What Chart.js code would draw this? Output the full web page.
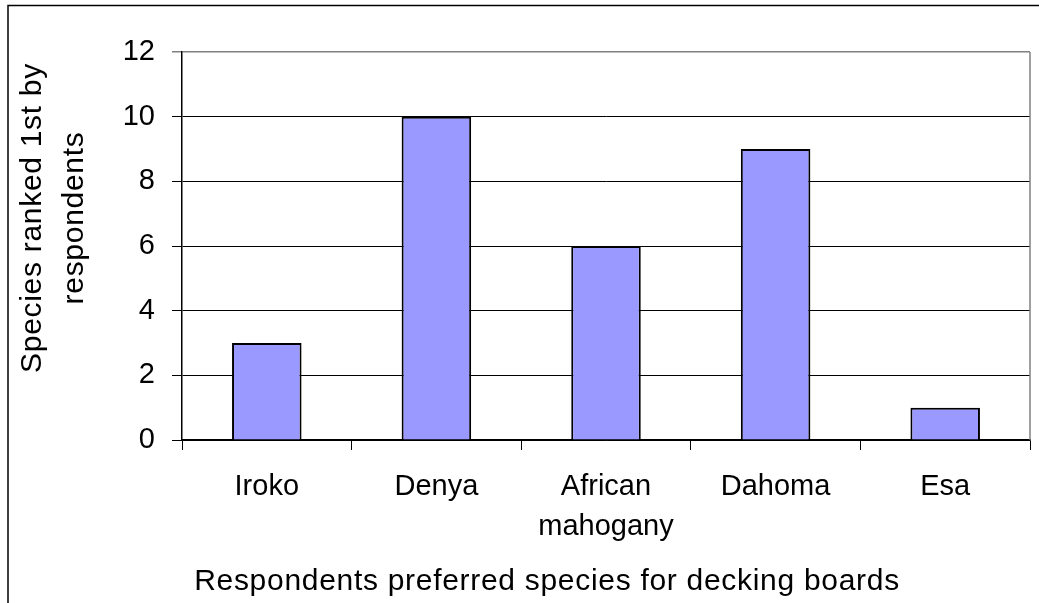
<!DOCTYPE html>
<html>
<head>
<meta charset="utf-8">
<script src="https://cdn.jsdelivr.net/npm/chart.js@4/dist/chart.umd.min.js"></script>
<style>
  html, body { margin: 0; padding: 0; background: #fff; overflow: hidden; }
  #wrap { width: 1039px; height: 603px; position: relative; }
</style>
</head>
<body>
<div id="wrap"><canvas id="species-chart"></canvas></div>
<script>
// species ranked first for decking boards
var species = ['Iroko', 'Denya', ['African', 'mahogany'], 'Dahoma', 'Esa'];
var rankedFirst = [3, 10, 6, 9, 1];
var yMin = 0, yMax = 12, yStep = 2;
var xTitle = 'Respondents preferred species for decking boards';
var yTitle = ['Species ranked 1st by', 'respondents'];

var FONT = '"Liberation Sans", Arial, sans-serif';

// outer frame, plot border and the two axis titles
var decorations = {
    id: 'decorations',
    afterDraw: function(chart) {
        var ctx = chart.ctx;
        var a = chart.chartArea;
        ctx.save();
        ctx.strokeStyle = '#808080';
        ctx.lineWidth = 1.5;
        ctx.beginPath();
        ctx.moveTo(a.right, a.top);
        ctx.lineTo(a.right, a.bottom);
        ctx.stroke();

        ctx.strokeStyle = '#000';
        ctx.lineWidth = 1.5;
        ctx.strokeRect(8, 5.5, chart.width + 20, chart.height + 20);

        ctx.fillStyle = '#000';
        ctx.font = '30px ' + FONT;
        ctx.letterSpacing = '0.7px';
        ctx.textAlign = 'center';
        ctx.textBaseline = 'alphabetic';
        ctx.fillText(xTitle, 547, 590);

        ctx.translate(0, 218);
        ctx.rotate(-Math.PI / 2);
        ctx.fillText(yTitle[0], 0, 41);
        ctx.fillText(yTitle[1], 0, 83);
        ctx.restore();
    }
};

var ctx = document.getElementById('species-chart');
var chart = new Chart(ctx, {
    type: 'bar',
    data: {
        labels: species,
        datasets: [{
            data: rankedFirst,
            backgroundColor: '#9999FF',
            borderColor: '#000',
            borderWidth: 2,
            categoryPercentage: 1,
            barPercentage: 0.41
        }]
    },
    options: {
        responsive: true,
        maintainAspectRatio: false,
        animation: false,
        layout: { padding: { left: 0, top: 52, right: 9, bottom: 0 } },
        plugins: {
            legend: { display: false },
            tooltip: { enabled: false }
        },
        scales: {
            x: {
                afterFit: function(scale) { scale.height = 163; },
                grid: {
                    offset: true,
                    drawOnChartArea: false,
                    drawTicks: true,
                    tickLength: 10,
                    color: '#000',
                    lineWidth: 1
                },
                border: { color: '#000', width: 1.5 },
                ticks: {
                    color: '#000',
                    font: { family: FONT, size: 29, lineHeight: '40px' },
                    padding: 17,
                    maxRotation: 0,
                    autoSkip: false
                }
            },
            y: {
                min: yMin,
                max: yMax,
                afterFit: function(scale) { scale.width = 182; },
                grid: {
                    color: function(c) { return c.tick.value === yMax ? '#808080' : '#000'; },
                    lineWidth: function(c) { return c.tick.value === yMax ? 1.5 : 1; },
                    tickLength: 10
                },
                border: { color: '#000', width: 1.5 },
                ticks: {
                    stepSize: yStep,
                    color: '#000',
                    font: { family: FONT, size: 29 },
                    padding: 17
                }
            }
        }
    },
    plugins: [decorations]
});
</script>
</body>
</html>
